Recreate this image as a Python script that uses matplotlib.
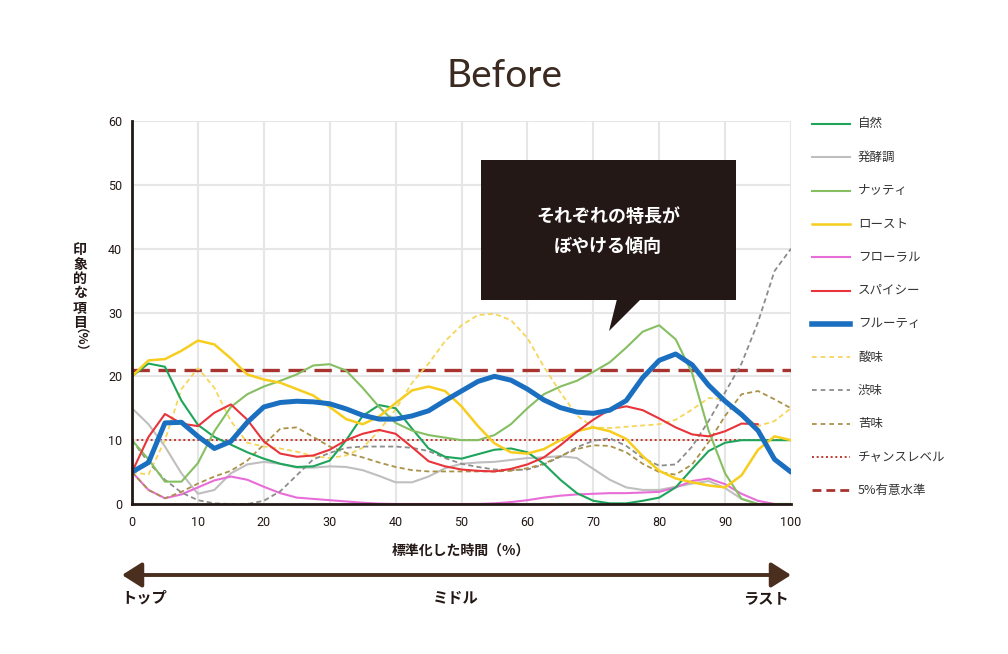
import numpy as np
import matplotlib
matplotlib.use("Agg")
import matplotlib.pyplot as plt
from matplotlib.lines import Line2D
from matplotlib.patches import Rectangle, Polygon, FancyArrowPatch

plt.rcParams['font.family'] = ['Noto Sans CJK JP', 'DejaVu Sans']

# ---------------- data ----------------
time_pct = [0, 2.5, 5, 7.5, 10, 12.5, 15, 17.5, 20, 22.5, 25, 27.5, 30, 32.5, 35, 37.5,
            40, 42.5, 45, 47.5, 50, 52.5, 55, 57.5, 60, 62.5, 65, 67.5, 70, 72.5, 75,
            77.5, 80, 82.5, 85, 87.5, 90, 92.5, 95, 97.5, 100]

natural = [20, 22.0, 21.5, 16.2, 12.4, 10.5, 9.3, 8.1, 7.1, 6.3, 5.8, 5.9, 6.8, 10.0, 13.8, 15.5,
           15.0, 11.8, 8.7, 7.4, 7.1, 7.8, 8.5, 8.7, 8.1, 6.3, 3.8, 1.7, 0.5, 0.1, 0.1,
           0.5, 1.0, 2.6, 5.5, 8.3, 9.6, 10.0, 10.0, 10.0, 10.0]
fermented = [15, 12.5, 9.0, 4.8, 1.6, 2.2, 4.8, 6.2, 6.6, 6.3, 5.7, 5.7, 5.9, 5.8, 5.3, 4.4,
             3.4, 3.4, 4.3, 5.6, 6.3, 6.5, 6.6, 6.9, 7.2, 7.3, 7.5, 7.2, 5.5, 3.8, 2.6,
             2.2, 2.2, 2.7, 3.2, 3.6, 2.5, 0.8, 0.0, 0.0, 0.0]
nutty = [10, 7.0, 3.5, 3.5, 6.4, 11.4, 15.2, 17.2, 18.4, 19.3, 20.3, 21.7, 21.9, 20.9, 18.2, 15.2,
         12.7, 11.5, 10.8, 10.4, 10.0, 10.0, 10.8, 12.5, 15.0, 17.2, 18.4, 19.3, 20.7, 22.2, 24.5,
         27.0, 28.0, 25.8, 20.5, 11.5, 4.8, 0.8, 0.0, 0.0, 0.0]
roast = [20, 22.5, 22.7, 24.0, 25.6, 25.0, 22.8, 20.3, 19.5, 19.0, 18.0, 17.0, 15.2, 13.3, 12.5, 13.7,
         15.8, 17.8, 18.4, 17.7, 15.3, 12.2, 9.5, 8.1, 7.9, 8.6, 10.0, 11.4, 12.0, 11.4, 10.2,
         7.5, 5.2, 4.0, 3.4, 2.9, 2.6, 4.5, 8.5, 10.6, 10.0]
floral = [5, 2.2, 0.9, 1.5, 2.6, 3.7, 4.3, 3.8, 2.7, 1.7, 1.0, 0.8, 0.6, 0.4, 0.2, 0.05,
          0.0, 0.0, 0.0, 0.0, 0.0, 0.0, 0.1, 0.3, 0.6, 1.0, 1.3, 1.5, 1.6, 1.7, 1.7,
          1.8, 1.9, 2.6, 3.6, 4.0, 3.1, 1.6, 0.5, 0.0, 0.0]
spicy = [5, 10.5, 14.1, 12.6, 12.2, 14.3, 15.6, 13.2, 9.8, 7.9, 7.4, 7.6, 8.5, 10.0, 11.0, 11.6,
         11.0, 8.9, 6.7, 5.9, 5.4, 5.2, 5.1, 5.5, 6.2, 7.3, 9.2, 11.3, 13.2, 14.8, 15.3,
         14.7, 13.4, 12.0, 10.9, 10.6, 11.4, 12.6, 12.5, np.nan, np.nan]
fruity = [5, 6.5, 12.7, 12.8, 10.6, 8.7, 9.8, 12.8, 15.2, 15.9, 16.1, 16.0, 15.7, 14.9, 13.9, 13.3,
          13.3, 13.8, 14.6, 16.2, 17.7, 19.2, 20.0, 19.4, 18.0, 16.3, 15.1, 14.4, 14.2, 14.7, 16.2,
          19.8, 22.5, 23.5, 21.8, 18.6, 16.1, 14.0, 11.5, 7.0, 5.0]
sour = [5, 4.6, 10.0, 18.0, 21.3, 18.2, 13.0, 9.6, 9.0, 8.7, 8.2, 7.5, 7.2, 7.6, 8.8, 11.5,
        14.8, 19.0, 22.0, 25.5, 28.0, 29.6, 29.8, 28.8, 26.0, 21.5, 17.5, 13.9, 12.0, 11.9, 12.1,
        12.3, 12.5, 13.2, 14.8, 16.6, 16.4, 14.0, 12.2, 13.0, 15.0]
astringent = [10, 6.5, 3.8, 1.8, 0.6, 0.1, 0.0, 0.0, 0.5, 2.0, 4.5, 7.0, 8.0, 8.8, 9.0, 9.0,
              9.0, 8.8, 8.3, 7.2, 6.3, 5.8, 5.4, 5.3, 5.4, 6.2, 7.4, 8.9, 9.9, 10.3, 9.1,
              7.2, 6.0, 6.2, 9.0, 13.0, 17.5, 22.0, 28.5, 36.5, 40.0]
bitter = [5, 2.2, 0.9, 1.9, 3.2, 4.3, 5.2, 6.8, 9.3, 11.8, 12.0, 10.5, 9.0, 8.0, 7.3, 6.5,
          5.8, 5.3, 5.1, 5.1, 5.1, 5.1, 5.1, 5.2, 5.6, 6.3, 7.5, 8.6, 9.2, 9.1, 8.1,
          6.3, 5.0, 4.6, 6.2, 9.7, 13.8, 17.2, 17.7, 16.4, 15.0]

chance_level = 10
significance_5pct = 21

labels = ['自然', '発酵調', 'ナッティ', 'ロースト', 'フローラル', 'スパイシー', 'フルーティ',
          '酸味', '渋味', '苦味', 'チャンスレベル', '5%有意水準']
x_ticks = [0, 10, 20, 30, 40, 50, 60, 70, 80, 90, 100]
y_ticks = [0, 10, 20, 30, 40, 50, 60]

# ---------------- styles ----------------
DASH = (0, (2.8, 1.8))
styles = [
    dict(color='#1ea55b', lw=1.5, ls='-'),
    dict(color='#bfbfbf', lw=1.5, ls='-'),
    dict(color='#86bf62', lw=1.5, ls='-'),
    dict(color='#f7cd1e', lw=1.8, ls='-'),
    dict(color='#e86dd8', lw=1.5, ls='-'),
    dict(color='#e8343a', lw=1.5, ls='-'),
    dict(color='#1b6fc0', lw=3.6, ls='-'),
    dict(color='#f6d65a', lw=1.3, ls=DASH),
    dict(color='#8c8c8c', lw=1.3, ls=DASH),
    dict(color='#aa9248', lw=1.3, ls=DASH),
    dict(color='#c0392f', lw=1.4, ls=(0, (1, 1.4))),
    dict(color='#a83430', lw=2.4, ls=(0, (5.2, 2.6))),
]

W, H = 1008, 654
fig = plt.figure(figsize=(W / 100, H / 100), dpi=100)
fig.patch.set_facecolor('white')


def fx(px):
    return px / W


def fy(py):
    return 1 - py / H


ax = fig.add_axes([fx(132), fy(504), (791 - 132) / W, (504 - 121) / H])
ax.set_xlim(0, 100)
ax.set_ylim(0, 60)
ax.set_xticks(x_ticks)
ax.set_yticks(y_ticks)
ax.grid(True, color='#e6e6e6', lw=1.5, zorder=0)
ax.set_axisbelow(True)
for s in ['top', 'right']:
    ax.spines[s].set_visible(False)
for s in ['left', 'bottom']:
    ax.spines[s].set_color('#231815')
    ax.spines[s].set_linewidth(2)
    ax.spines[s].set_zorder(20)
ax.tick_params(length=0, labelsize=9, colors='#231815')
ax.tick_params(axis='y', pad=7)
ax.tick_params(axis='x', pad=9)
for lab in ax.get_xticklabels() + ax.get_yticklabels():
    lab.set_family(['Roboto', 'DejaVu Sans'])

# reference lines
ax.axhline(chance_level, **styles[10], zorder=3)
ax.axhline(significance_5pct, **styles[11], zorder=3)

series = [natural, fermented, nutty, roast, floral, spicy, fruity, sour, astringent, bitter]
order_z = [5, 4, 5, 5, 4, 5, 8, 3, 4, 4]
for vals, st, z in zip(series, styles[:10], order_z):
    ax.plot(time_pct, vals, color=st['color'], lw=st['lw'], ls=st['ls'],
            solid_capstyle='round', solid_joinstyle='round', zorder=z, clip_on=True)

# ---------------- legend (manual) ----------------
for i, (lab, st) in enumerate(zip(labels, styles)):
    y = 124 + 33.3 * i
    lw = st['lw'] if i != 6 else 4.0
    ls = st['ls']
    if i in (7, 8, 9):
        ls = (0, (2.6, 2.2))
    if i == 11:
        ls = (0, (3.2, 1.8))
        lw = 2.0
    fig.add_artist(Line2D([fx(812), fx(850)], [fy(y), fy(y)], color=st['color'], lw=lw,
                          ls=ls, transform=fig.transFigure))
    fig.text(fx(858), fy(y), lab, fontsize=9, color='#333333', va='center', ha='left')

# ---------------- title ----------------
fig.text(fx(504), fy(76), 'Before', fontsize=28, color='#3b2a20', ha='center', va='center',
         family=['Lato', 'DejaVu Sans'], fontweight='normal')

# ---------------- y label (vertical, stacked) ----------------
ychars = ['印', '象', '的', 'な', '項', '目']
ypos = [250, 264.5, 279, 293.5, 308, 322.5]
for ch, yy in zip(ychars, ypos):
    fig.text(fx(80), fy(yy), ch, fontsize=10, fontweight='bold', color='#231815',
             ha='center', va='center')
fig.text(fx(73), fy(346), '（%）', fontsize=9, fontweight='bold', color='#231815',
         ha='center', va='center', rotation=-90)

# x label
fig.text(fx(461), fy(551), '標準化した時間（%）', fontsize=10, fontweight='bold',
         color='#231815', ha='center', va='center')

# ---------------- arrow ----------------
arr = FancyArrowPatch((fx(122), fy(575)), (fx(791), fy(575)), transform=fig.transFigure,
                      arrowstyle='<|-|>,head_length=0.6,head_width=0.38', mutation_scale=20,
                      color='#4a2f1f', lw=2.8, shrinkA=0, shrinkB=0)
fig.add_artist(arr)
fig.text(fx(121), fy(598), 'トップ', fontsize=11, fontweight='bold', color='#231815',
         ha='left', va='center')
fig.text(fx(456), fy(598), 'ミドル', fontsize=11, fontweight='bold', color='#231815',
         ha='center', va='center')
fig.text(fx(789), fy(598), 'ラスト', fontsize=11, fontweight='bold', color='#231815',
         ha='right', va='center')

# ---------------- callout ----------------
box = Rectangle((fx(481), fy(300)), fx(736) - fx(481), fy(160) - fy(300),
                transform=fig.transFigure, facecolor='#231815', edgecolor='none', zorder=30)
fig.add_artist(box)
tail = Polygon([(fx(617), fy(299)), (fx(641), fy(299)), (fx(609), fy(331))], closed=True,
               transform=fig.transFigure, facecolor='#231815', edgecolor='none', zorder=30)
fig.add_artist(tail)
fig.text(fx(608), fy(216), 'それぞれの特長が', fontsize=13, fontweight='bold', color='white',
         ha='center', va='center', zorder=31)
fig.text(fx(608), fy(246), 'ぼやける傾向', fontsize=13, fontweight='bold', color='white',
         ha='center', va='center', zorder=31)

fig.savefig('out.png', dpi=100, facecolor='white')
